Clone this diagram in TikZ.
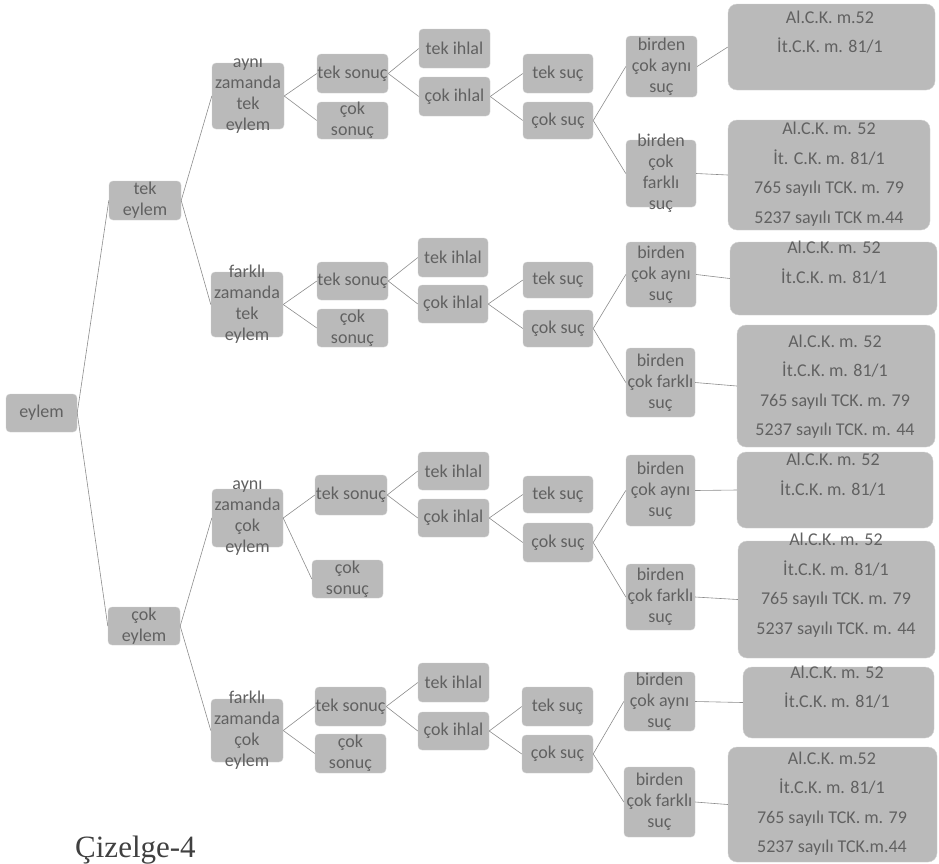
\documentclass[tikz,border=0pt]{standalone}
\usepackage{fontspec}
\setmainfont{Carlito}
\newfontfamily\capfont{Liberation Serif}
\tikzset{
  box/.style={fill=black!27, draw=black!18, line width=0.4pt, rounded corners=4pt, inner sep=0pt},
  bigbox/.style={box, rounded corners=9pt},
  lbl/.style={align=center, text=black!62, inner sep=0pt, font=\fontsize{18}{21}\selectfont},
  biglbl/.style={lbl, font=\fontsize{18}{29.5}\selectfont},
  conn/.style={draw=black!45, line width=0.6pt},
}
% \bx[style]{name}{x1}{x2}{y1}{y2}{text}
\newcommand\bx[7][box]{%
  \node[#1, minimum width={(#4-#3)*1pt}, minimum height={(#6-#5)*1pt}] (#2) at ({(#3+#4)/2},{(#5+#6)/2}) {};
  \node[lbl] (#2-t) at (#2.center) {#7};
}
\begin{document}
\begin{tikzpicture}[x=1pt,y=-1pt]
\useasboundingbox (0,0) rectangle (939,863);
% level 0-2
\bx{e0}{6}{77}{394}{432}{eylem}
\bx{t1}{109}{181}{181}{220}{tek\\eylem}
\bx{c1}{108}{180}{607}{645}{çok\\eylem}
\bx{a1}{212}{284}{63}{129}{aynı\\zamanda\\tek\\eylem}
\bx{f1}{211}{283}{272}{337}{farklı\\zamanda\\tek\\eylem}
\bx{a2}{212}{283}{489}{547}{aynı\\zamanda\\çok\\eylem}
\bx{f2}{211}{283}{699}{762}{farklı\\zamanda\\çok\\eylem}
% level 3
\bx{ts1}{317}{388}{54}{93}{tek sonuç}
\bx{cs1}{317}{388}{102}{139}{çok\\sonuç}
\bx{ts2}{317}{388}{262}{300}{tek sonuç}
\bx{cs2}{317}{388}{309}{347}{çok\\sonuç}
\bx{ts3}{315}{387}{475}{515}{tek sonuç}
\bx{cs3}{312}{383}{560}{598}{çok\\sonuç}
\bx{ts4}{315}{386}{687}{726}{tek sonuç}
\bx{cs4}{315}{386}{734}{773}{çok\\sonuç}
% level 4
\bx{ti1}{419}{490}{29}{68}{tek ihlal}
\bx{ci1}{419}{490}{77}{116}{çok ihlal}
\bx{ti2}{418}{488}{238}{277}{tek ihlal}
\bx{ci2}{418}{488}{285}{323}{çok ihlal}
\bx{ti3}{418}{489}{452}{490}{tek ihlal}
\bx{ci3}{418}{489}{499}{537}{çok ihlal}
\bx{ti4}{418}{489}{663}{702}{tek ihlal}
\bx{ci4}{418}{489}{712}{750}{çok ihlal}
% level 5
\bx{tsu1}{523}{593}{54}{93}{tek suç}
\bx{csu1}{523}{593}{102}{139}{çok suç}
\bx{tsu2}{523}{593}{262}{298}{tek suç}
\bx{csu2}{523}{593}{310}{347}{çok suç}
\bx{tsu3}{523}{593}{476}{513}{tek suç}
\bx{csu3}{523}{593}{523}{562}{çok suç}
\bx{tsu4}{522}{593}{687}{726}{tek suç}
\bx{csu4}{522}{593}{735}{773}{çok suç}
% level 6
\bx{ba1}{626}{697}{36}{97}{birden\\çok aynı\\suç}
\bx{bf1}{626}{696}{140}{207}{birden\\çok\\farklı\\suç}
\bx{ba2}{626}{696}{242}{307}{birden\\çok aynı\\suç}
\bx{bf2}{626}{695}{348}{417}{birden\\çok farklı\\suç}
\bx{ba3}{626}{695}{455}{526}{birden\\çok aynı\\suç}
\bx{bf3}{626}{695}{564}{630}{birden\\çok farklı\\suç}
\bx{ba4}{624}{695}{672}{731}{birden\\çok aynı\\suç}
\bx{bf4}{624}{695}{767}{837}{birden\\çok farklı\\suç}
% level 7
\bx[bigbox]{B1}{728}{935}{4}{90}{}
\bx[bigbox]{B2}{728}{930}{120}{230}{}
\bx[bigbox]{B3}{730}{937}{242}{315}{}
\bx[bigbox]{B4}{737}{935}{325}{447}{}
\bx[bigbox]{B5}{737}{933}{452}{528}{}
\bx[bigbox]{B6}{738}{935}{541}{658}{}
\bx[bigbox]{B7}{743}{934}{667}{738}{}
\bx[bigbox]{B8}{728}{937}{747}{862}{}
\node[biglbl] (L1) at (830,32) {Al.C.K. m.52\\İt.C.K. m. 81/1};
\node[biglbl] (L2) at (829,174) {Al.C.K. m. 52\\İt. C.K. m. 81/1\\765 sayılı TCK. m. 79\\5237 sayılı TCK m.44};
\node[biglbl] (L3) at (834,262.5) {Al.C.K. m. 52\\İt.C.K. m. 81/1};
\node[biglbl] (L4) at (835,386.5) {Al.C.K. m. 52\\İt.C.K. m. 81/1\\765 sayılı TCK. m. 79\\5237 sayılı TCK. m. 44};
\node[biglbl] (L5) at (833,474.5) {Al.C.K. m. 52\\İt.C.K. m. 81/1};
\node[biglbl] (L6) at (836,585) {Al.C.K. m. 52\\İt.C.K. m. 81/1\\765 sayılı TCK. m. 79\\5237 sayılı TCK. m. 44};
\node[biglbl] (L7) at (837,687) {Al.C.K. m. 52\\İt.C.K. m. 81/1};
\node[biglbl] (L8) at (832,803.5) {Al.C.K. m.52\\İt.C.K. m. 81/1\\765 sayılı TCK. m. 79\\5237 sayılı TCK.m.44};
% connectors
\draw[conn] (e0.east) -- (t1.west);
\draw[conn] (e0.east) -- (c1.west);
\draw[conn] (t1.east) -- (a1.west);
\draw[conn] (t1.east) -- (f1.west);
\draw[conn] (c1.east) -- (a2.west);
\draw[conn] (c1.east) -- (f2.west);
\foreach \p/\i in {a1/1,f1/2,a2/3,f2/4}{
  \draw[conn] (\p.east) -- (ts\i.west);
  \draw[conn] (\p.east) -- (cs\i.west);
  \draw[conn] (ts\i.east) -- (ti\i.west);
  \draw[conn] (ts\i.east) -- (ci\i.west);
  \draw[conn] (ci\i.east) -- (tsu\i.west);
  \draw[conn] (ci\i.east) -- (csu\i.west);
  \draw[conn] (csu\i.east) -- (ba\i.west);
  \draw[conn] (csu\i.east) -- (bf\i.west);
}
\draw[conn] (ba1.east) -- (B1.west);
\draw[conn] (bf1.east) -- (B2.west);
\draw[conn] (ba2.east) -- (B3.west);
\draw[conn] (bf2.east) -- (B4.west);
\draw[conn] (ba3.east) -- (B5.west);
\draw[conn] (bf3.east) -- (B6.west);
\draw[conn] (ba4.east) -- (B7.west);
\draw[conn] (bf4.east) -- (B8.west);
% caption
\node[font=\capfont\fontsize{31}{31}\selectfont, text=black!75, anchor=base west, inner sep=0pt] (cap) at (75,857) {Çizelge-4};
\end{tikzpicture}
\end{document}
